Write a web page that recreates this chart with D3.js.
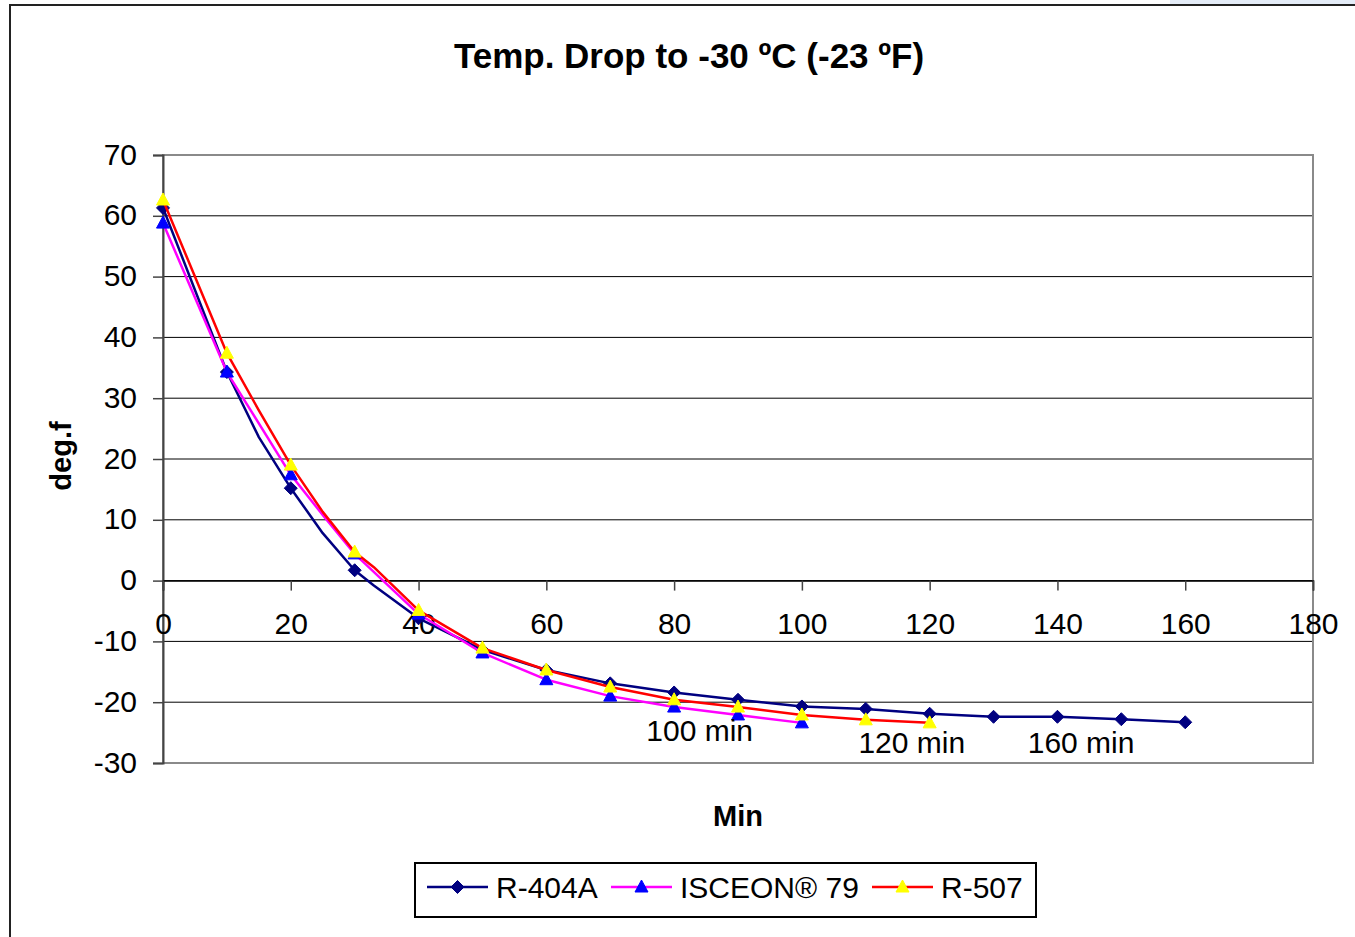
<!DOCTYPE html>
<html>
<head>
<meta charset="utf-8">
<script src="https://cdn.jsdelivr.net/npm/d3@7"></script>
<style>
  body { margin: 0; background: #fff; }
  svg { display: block; font-family: "Liberation Sans", Arial, sans-serif; }
</style>
</head>
<body>
<div id="chart"></div>
<script>
// data (minutes, deg F)
var r404Time = [0, 10, 15, 20, 25, 30, 33, 40, 50, 60, 70, 80, 90, 100, 110, 120, 130, 140, 150, 160];
var r404Vals = [61.3, 34.3, 23.6, 15.2, 7.8, 1.7, -0.8, -6.2, -11.4, -14.7, -16.9, -18.4, -19.6, -20.7, -21.1, -21.9, -22.4, -22.4, -22.8, -23.3];

var isceonTime = [0, 10, 20, 25, 30, 40, 50, 60, 70, 80, 90, 100];
var isceonVals = [58.8, 34.3, 17.4, 10.8, 4.4, -5.5, -11.9, -16.3, -19.0, -20.8, -22.1, -23.4];

var r507Time = [0, 10, 15, 20, 25, 30, 33, 40, 50, 60, 70, 80, 90, 100, 110, 120];
var r507Vals = [62.6, 37.4, 28.0, 19.0, 11.3, 4.7, 2.2, -4.9, -11.1, -14.7, -17.5, -19.6, -20.8, -22.1, -22.9, -23.4];

var seriesNames = ["R-404A", "ISCEON\u00ae 79", "R-507"];
var xTicks = [0, 20, 40, 60, 80, 100, 120, 140, 160, 180];
var yTicks = [-30, -20, -10, 0, 10, 20, 30, 40, 50, 60, 70];

var noteText = ["100 min", "120 min", "160 min"];
var noteX = [84.0, 117.2, 143.7];
var noteY = [-26.3, -28.4, -28.4];

var svgWidth = 1355, svgHeight = 937;
var plotLeft = 163, plotRight = 1313, plotTop = 155, plotBottom = 763;

var svg = d3.select("#chart").append("svg")
  .attr("width", svgWidth)
  .attr("height", svgHeight);

// bit of the page above the chart
svg.append("rect").attr("x", 1170).attr("y", 0).attr("width", 185).attr("height", 5).attr("fill", "#e4ecf7");

// outer chart frame
svg.append("path")
  .attr("d", "M10," + svgHeight + "V5H" + svgWidth)
  .attr("fill", "none").attr("stroke", "#222").attr("stroke-width", 2);

var x = d3.scaleLinear().domain([0, 180]).range([plotLeft, plotRight]);
var y = d3.scaleLinear().domain([-30, 70]).range([plotBottom, plotTop]);

// plain hyphen for negatives, like the original
var fmt = function(d){ return String(d); };

// gridlines
svg.append("g").selectAll("line")
  .data(yTicks.filter(function(d){ return d > -30 && d < 70; }))
  .enter().append("line")
  .attr("x1", plotLeft).attr("x2", plotRight)
  .attr("y1", function(d){ return y(d); })
  .attr("y2", function(d){ return y(d); })
  .attr("stroke", "#000").attr("stroke-width", 1);

// plot area border
svg.append("rect")
  .attr("x", plotLeft).attr("y", plotTop)
  .attr("width", plotRight - plotLeft).attr("height", plotBottom - plotTop)
  .attr("fill", "none").attr("stroke", "#8a8a8a").attr("stroke-width", 2);

// y axis
var yAxis = svg.append("g")
  .attr("transform", "translate(" + plotLeft + ",0)")
  .call(d3.axisLeft(y).tickValues(yTicks).tickSize(10).tickPadding(16).tickFormat(fmt));
yAxis.select(".domain").attr("stroke", "#444").attr("stroke-width", 2);
yAxis.selectAll(".tick line").attr("stroke", "#444").attr("stroke-width", 1.5);
yAxis.selectAll("text").attr("font-size", 30).attr("font-family", "Liberation Sans, Arial, sans-serif").attr("fill", "#000").attr("dy", "0.3em");

// x axis crossing at 0
var xAxis = svg.append("g")
  .attr("transform", "translate(0," + y(0) + ")")
  .call(d3.axisBottom(x).tickValues(xTicks).tickSize(10).tickPadding(22).tickFormat(fmt));
xAxis.select(".domain").attr("stroke", "#000").attr("stroke-width", 1.5);
xAxis.selectAll(".tick line").attr("stroke", "#444").attr("stroke-width", 1.5);
xAxis.selectAll("text").attr("font-size", 30).attr("font-family", "Liberation Sans, Arial, sans-serif").attr("fill", "#000");

// titles
svg.append("text")
  .attr("x", 689).attr("y", 68)
  .attr("text-anchor", "middle")
  .attr("font-size", 35).attr("font-weight", "bold")
  .text("Temp. Drop to -30 \u00baC (-23 \u00baF)");

svg.append("text")
  .attr("x", 738).attr("y", 826)
  .attr("text-anchor", "middle")
  .attr("font-size", 29).attr("font-weight", "bold")
  .text("Min");

svg.append("text")
  .attr("transform", "translate(71,456) rotate(-90)")
  .attr("text-anchor", "middle")
  .attr("font-size", 29).attr("font-weight", "bold")
  .text("deg.f");

// series
var series = [
  {name: seriesNames[0], t: r404Time, v: r404Vals, line: "#000080", mark: "diamond", fill: "#000080", stroke: "#000080"},
  {name: seriesNames[1], t: isceonTime, v: isceonVals, line: "#ff00ff", mark: "triangle", fill: "#0000ff", stroke: "#0000ff"},
  {name: seriesNames[2], t: r507Time, v: r507Vals, line: "#ff0000", mark: "triangle", fill: "#ffff00", stroke: "#ffff00"}
];

function markerPath(kind){
  if(kind == "diamond") return "M0,-6.5L6.5,0L0,6.5L-6.5,0Z";
  return "M0,-7L6.5,5L-6.5,5Z";
}

var line = d3.line()
  .x(function(d){ return x(d[0]); })
  .y(function(d){ return y(d[1]); });

series.forEach(function(s){
  var pts = s.t.map(function(t, i){ return [t, s.v[i]]; });
  svg.append("path")
    .datum(pts)
    .attr("d", line)
    .attr("fill", "none")
    .attr("stroke", s.line)
    .attr("stroke-width", 2.5)
    .attr("stroke-linejoin", "round");
  // markers only on the 10 minute readings
  svg.append("g").selectAll("path")
    .data(pts.filter(function(d){ return d[0] % 10 == 0; }))
    .enter().append("path")
    .attr("d", markerPath(s.mark))
    .attr("transform", function(d){ return "translate(" + x(d[0]) + "," + y(d[1]) + ")"; })
    .attr("fill", s.fill)
    .attr("stroke", s.stroke)
    .attr("stroke-width", 1);
});

// notes
svg.append("g").selectAll("text")
  .data(noteText)
  .enter().append("text")
  .attr("x", function(d, i){ return x(noteX[i]); })
  .attr("y", function(d, i){ return y(noteY[i]); })
  .attr("text-anchor", "middle")
  .attr("font-size", 30)
  .text(function(d){ return d; });

// legend
var legend = svg.append("g");
legend.append("rect")
  .attr("x", 415).attr("y", 863).attr("width", 621).attr("height", 54)
  .attr("fill", "#fff").attr("stroke", "#000").attr("stroke-width", 2);

var legX = [427, 611, 872];
series.forEach(function(s, i){
  var g = legend.append("g").attr("transform", "translate(" + legX[i] + ",887)");
  g.append("line").attr("x1", 0).attr("x2", 61).attr("y1", 0).attr("y2", 0)
    .attr("stroke", s.line).attr("stroke-width", 2.5);
  g.append("path").attr("d", markerPath(s.mark))
    .attr("transform", "translate(30.5,0)")
    .attr("fill", s.fill).attr("stroke", s.stroke).attr("stroke-width", 1);
  g.append("text").attr("x", 69).attr("y", 11)
    .attr("font-size", 30)
    .text(s.name);
});
</script>
</body>
</html>
